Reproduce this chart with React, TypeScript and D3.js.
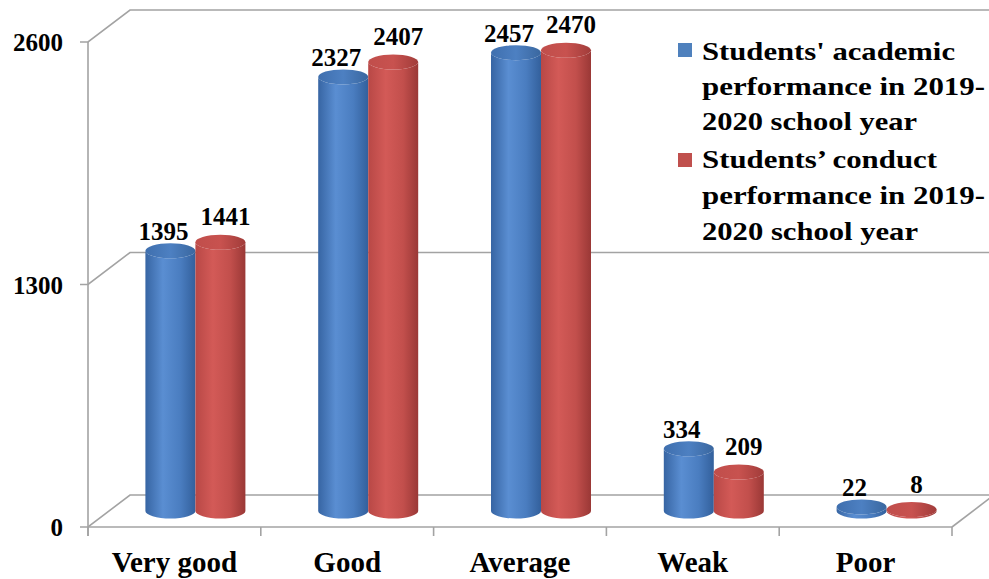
import React from 'react';
import * as d3 from 'd3';

const categories = ['Very good', 'Good', 'Average', 'Weak', 'Poor'];
const academic = [1395, 2327, 2457, 334, 22];
const conduct = [1441, 2407, 2470, 209, 8];
const yTicks = [0, 1300, 2600];
const legendAcademic = ["Students' academic", 'performance in 2019-', '2020 school year'];
const legendConduct = ['Students’ conduct', 'performance in 2019-', '2020 school year'];

const W = 989;
const H = 579;
const left = 88;
const right = 952;
const bottom = 527;
const top = 42;
const depthX = 42; // back wall offset
const depthY = -32;

const serif = '"Liberation Serif", "Times New Roman", serif';
const gridColor = '#a3a3a3';

const cylinder = (cx: number, yTop: number, yBase: number, rx: number, ry: number) =>
  `M${cx - rx},${yTop} L${cx - rx},${yBase} A${rx},${ry} 0 0 0 ${cx + rx},${yBase} ` +
  `L${cx + rx},${yTop} A${rx},${ry} 0 0 1 ${cx - rx},${yTop} Z`;

const App = () => {
  const x = d3.scaleBand<string>().domain(categories).range([left, right]);
  const y = d3.scaleLinear().domain([0, 2600]).range([bottom, top]);

  const midX = depthX / 2;
  const midY = depthY / 2;
  const rx = 25;
  const ry = 7.5;

  const series = [
    { values: academic, body: 'url(#blueBody)', cap: 'url(#blueTop)', shift: -rx, labelDx: -7, labelDy: -11 },
    { values: conduct, body: 'url(#redBody)', cap: 'url(#redTop)', shift: rx, labelDx: 5, labelDy: -17 },
  ];

  const tickXs = [...categories.map(c => x(c) as number), right];

  return (
    <svg width={W} height={H} style={{ position: 'absolute', left: 0, top: 0, background: '#fff' }}>
      <defs>
        <linearGradient id="blueBody" x1="0" x2="1" y1="0" y2="0">
          <stop offset="0" stopColor="#3765a3" />
          <stop offset="0.35" stopColor="#5a8ed2" />
          <stop offset="0.7" stopColor="#4a7dc0" />
          <stop offset="1" stopColor="#33609c" />
        </linearGradient>
        <linearGradient id="redBody" x1="0" x2="1" y1="0" y2="0">
          <stop offset="0" stopColor="#b84846" />
          <stop offset="0.35" stopColor="#d35a57" />
          <stop offset="0.7" stopColor="#c24f4c" />
          <stop offset="1" stopColor="#9a3836" />
        </linearGradient>
        <linearGradient id="blueTop" x1="0" x2="1" y1="0" y2="0">
          <stop offset="0" stopColor="#3f6fae" />
          <stop offset="0.5" stopColor="#4d80c2" />
          <stop offset="1" stopColor="#3a679f" />
        </linearGradient>
        <linearGradient id="redTop" x1="0" x2="1" y1="0" y2="0">
          <stop offset="0" stopColor="#c04e4b" />
          <stop offset="0.5" stopColor="#c8524f" />
          <stop offset="1" stopColor="#a13c3a" />
        </linearGradient>
      </defs>

      {/* walls and gridlines */}
      {yTicks.map(t => (
        <g key={t} stroke={gridColor} strokeWidth={1.6} fill="none">
          <path d={`M${left - 8},${y(t)} L${left},${y(t)} L${left + depthX},${y(t) + depthY} L${W + 10},${y(t) + depthY}`} />
        </g>
      ))}
      <line x1={left} x2={left} y1={top} y2={bottom + 9} stroke={gridColor} strokeWidth={1.6} />
      <line x1={left} x2={right} y1={bottom} y2={bottom} stroke={gridColor} strokeWidth={1.6} />
      <line x1={right} x2={right + depthX} y1={bottom} y2={bottom + depthY} stroke={gridColor} strokeWidth={1.6} />
      {tickXs.map((tx, i) => (
        <line key={i} x1={tx} x2={tx} y1={bottom} y2={bottom + 9} stroke={gridColor} strokeWidth={1.6} />
      ))}

      {/* y tick labels */}
      {yTicks.map(t => (
        <text key={t} x={63} y={y(t) + 9} textAnchor="end" fontFamily={serif} fontWeight="bold" fontSize={25} fill="#000">
          {t}
        </text>
      ))}

      {/* cylinders */}
      {categories.map((c, i) => {
        const center = (x(c) as number) + x.bandwidth() / 2 + midX;
        return (
          <g key={c}>
            {series.map((s, k) => {
              const cx = center + s.shift;
              const yBase = bottom + midY;
              const yTop = y(s.values[i]) + midY;
              return (
                <g key={k}>
                  <path d={cylinder(cx, yTop, yBase, rx, ry)} fill={s.body} />
                  <ellipse cx={cx} cy={yTop} rx={rx} ry={ry} fill={s.cap} />
                </g>
              );
            })}
            {series.map((s, k) => {
              const cx = center + s.shift;
              const yTop = y(s.values[i]) + midY;
              return (
                <text key={'l' + k} x={cx + s.labelDx} y={yTop + s.labelDy} textAnchor="middle"
                  fontFamily={serif} fontWeight="bold" fontSize={25} fill="#000">
                  {s.values[i]}
                </text>
              );
            })}
          </g>
        );
      })}

      {/* category labels */}
      {categories.map(c => (
        <text key={c} x={(x(c) as number) + x.bandwidth() / 2} y={572} textAnchor="middle"
          fontFamily={serif} fontWeight="bold" fontSize={29} fill="#000">
          {c}
        </text>
      ))}

      {/* legend */}
      <rect x={678} y={43} width={14} height={14} fill="#4f81bd" />
      <rect x={678} y={153} width={14} height={14} fill="#c0504d" />
      {legendAcademic.map((line, i) => (
        <text key={'a' + i} x={702} y={60 + i * 35} fontFamily={serif} fontWeight="bold" fontSize={26}
          textLength={[253, 283, 215][i]} lengthAdjust="spacingAndGlyphs" fill="#000">
          {line}
        </text>
      ))}
      {legendConduct.map((line, i) => (
        <text key={'c' + i} x={702} y={168 + i * 36} fontFamily={serif} fontWeight="bold" fontSize={26}
          textLength={[235, 283, 216][i]} lengthAdjust="spacingAndGlyphs" fill="#000">
          {line}
        </text>
      ))}
    </svg>
  );
};

export default App;
